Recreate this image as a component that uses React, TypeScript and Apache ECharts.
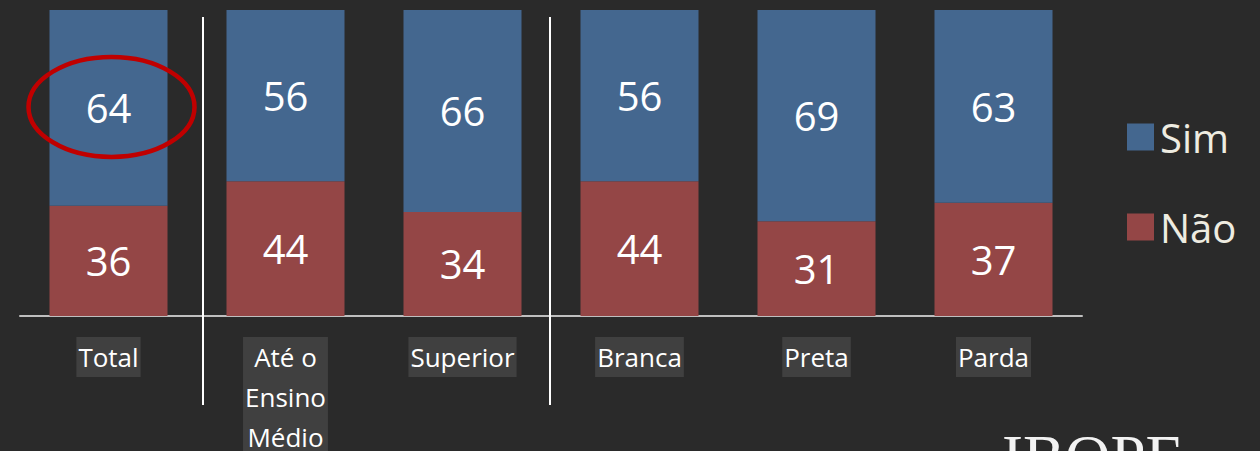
import React, { useEffect, useRef } from "react";
import * as echarts from "echarts";

const categories = ["Total", "Até o\nEnsino\nMédio", "Superior", "Branca", "Preta", "Parda"];
const simValues = [64, 56, 66, 56, 69, 63];
const naoValues = [36, 44, 34, 44, 31, 37];
const seriesNames = ["Sim", "Não"];

const FONT = "'Open Sans', 'Noto Sans', sans-serif";

export default function App() {
  const ref = useRef<HTMLDivElement>(null);
  useEffect(() => {
    if (!ref.current) return;
    const chart = echarts.init(ref.current, undefined, { renderer: "svg" });
    const valueLabel = {
      show: true,
      position: "inside" as const,
      color: "#ffffff",
      fontSize: 40,
      fontFamily: FONT,
    };
    chart.setOption({
      animation: false,
      backgroundColor: "#2a2a2a",
      grid: { left: 20, right: 178, top: 10, bottom: 135, containLabel: false, outerBoundsMode: "none" },
      legend: {
        orient: "vertical",
        left: 1122,
        top: 112,
        itemWidth: 27,
        itemHeight: 27,
        itemGap: 50,
        icon: "rect",
        data: seriesNames,
        textStyle: { color: "#EEECE1", fontSize: 40, fontFamily: FONT, lineHeight: 40, padding: [0, 0, 0, 1] },
      },
      xAxis: {
        type: "category",
        data: categories,
        axisLine: { show: true, lineStyle: { color: "#bfbfbf", width: 2 } },
        axisTick: { show: false },
        axisLabel: {
          color: "#ffffff",
          fontSize: 26,
          fontFamily: FONT,
          lineHeight: 40,
          margin: 21,
          backgroundColor: "#404040",
          padding: [0, 2, 0, 2],
          interval: 0,
        },
      },
      yAxis: {
        type: "value",
        min: 0,
        max: 100,
        show: false,
        splitLine: { show: false },
      },
      series: [
        {
          name: seriesNames[1],
          type: "bar",
          stack: "a",
          barWidth: 118,
          data: naoValues,
          itemStyle: { color: "#944646" },
          label: valueLabel,
        },
        {
          name: seriesNames[0],
          type: "bar",
          stack: "a",
          barWidth: 118,
          data: simValues,
          itemStyle: { color: "#44678F" },
          label: valueLabel,
        },
      ],
    });
    const c = chart.convertToPixel({ xAxisIndex: 0, yAxisIndex: 0 }, [0, naoValues[0] + simValues[0] / 2]) as number[];
    chart.setOption({
      graphic: [
        { type: "line", z: 100, shape: { x1: 203, y1: 17, x2: 203, y2: 405 }, style: { stroke: "#ffffff", lineWidth: 2 } },
        { type: "line", z: 100, shape: { x1: 550, y1: 17, x2: 550, y2: 405 }, style: { stroke: "#ffffff", lineWidth: 2 } },
        {
          type: "ellipse",
          z: 100,
          shape: { cx: c[0] + 3, cy: c[1] - 1, rx: 83, ry: 50 },
          style: { fill: "none", stroke: "#C00000", lineWidth: 4.5 },
        },
        {
          type: "text",
          z: 100,
          left: 1002,
          top: 426,
          style: { text: "IBOPE", fill: "#f2f2f2", font: "63px 'Liberation Serif', 'Times New Roman', serif" },
        },
      ],
    });
    return () => chart.dispose();
  }, []);
  return <div ref={ref} style={{ width: 1260, height: 451, position: "absolute", left: 0, top: 0 }} />;
}
